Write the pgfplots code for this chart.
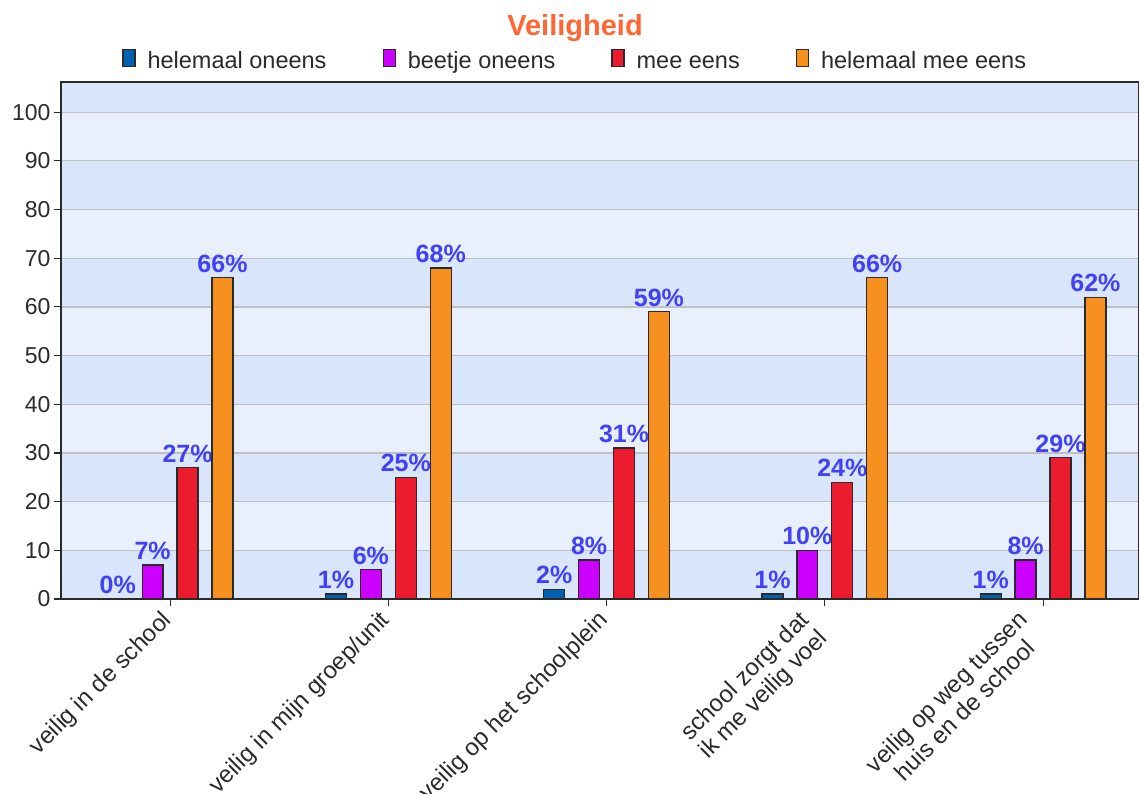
\documentclass[border=0pt]{standalone}
\usepackage{fontspec}
\setmainfont{Liberation Sans}
\usepackage{pgfplots}
\pgfplotsset{compat=1.18}
\definecolor{cBlue}{HTML}{0062AE}
\definecolor{cPurple}{HTML}{CC00FF}
\definecolor{cRed}{HTML}{EC1C2E}
\definecolor{cOrange}{HTML}{F7901E}
\definecolor{bandLight}{HTML}{E8F0FD}
\definecolor{bandDark}{HTML}{D8E5FB}
\definecolor{lblBlue}{HTML}{4040F8}
\definecolor{titleOrange}{HTML}{FF6633}
\definecolor{gridGray}{HTML}{C0C0C0}
\definecolor{txt}{HTML}{2A2A2A}
\begin{document}
\begin{tikzpicture}
\begin{axis}[
  name=ax,
  set layers,
  clip mode=individual,
  scale only axis,
  width=1078pt, height=517pt,
  xmin=-0.5, xmax=4.44,
  ymin=0, ymax=106.2,
  ytick={0,10,...,100},
  xtick={0,1,2},
  xticklabels={veilig in de school, veilig in mijn groep/unit, veilig op het schoolplein},
  extra x ticks={3,4},
  extra x tick labels={{school zorgt dat\\ik me veilig voel}, {veilig op weg tussen\\huis en de school}},
  extra x tick style={xticklabel style={xshift=-12pt, yshift=12pt}},
  /pgf/number format/assume math mode=true,
  ymajorgrids,
  grid style={gridGray, line width=1.2pt},
  axis line style={draw=txt, line width=1.3pt},
  tick style={draw=txt, line width=1.1pt},
  major tick length=7pt,
  tick align=outside,
  xtick pos=bottom, ytick pos=left,
  yticklabel style={font=\fontsize{23}{26}\selectfont, text=txt},
  xticklabel style={rotate=45, anchor=north east, align=center, font=\fontsize{24}{26}\selectfont, text=txt, inner sep=2pt, xshift=-7pt, yshift=7pt},
  ybar, bar width=0.096,
  every axis plot/.append style={draw=txt, line width=1.3pt},
  nodes near coords={\pgfmathprintnumber{\pgfplotspointmeta}\%},
  nodes near coords style={font=\fontsize{25}{28}\selectfont\bfseries, text=lblBlue, anchor=south, inner sep=1.5pt, yshift=3pt},
  legend columns=4,
  legend style={at={(0.477,1.041)}, anchor=center, draw=none, fill=none,
    font=\fontsize{23.5}{26}\selectfont, text=txt,
    nodes={text depth=0.25em, text height=0.75em},
    /tikz/every odd column/.append style={column sep=10pt},
    /tikz/every even column/.append style={column sep=54pt}},
  legend image code/.code={\draw[#1,/tikz/.cd,draw=txt,line width=1.2pt] (0pt,-1pt) rectangle (12pt,16pt);},
]
\begin{pgfonlayer}{axis background}
\fill[bandLight] (axis cs:-0.5,0) rectangle (axis cs:4.44,106.2);
\fill[bandDark] (axis cs:-0.5,0) rectangle (axis cs:4.44,10);
\fill[bandDark] (axis cs:-0.5,20) rectangle (axis cs:4.44,30);
\fill[bandDark] (axis cs:-0.5,40) rectangle (axis cs:4.44,50);
\fill[bandDark] (axis cs:-0.5,60) rectangle (axis cs:4.44,70);
\fill[bandDark] (axis cs:-0.5,80) rectangle (axis cs:4.44,90);
\fill[bandDark] (axis cs:-0.5,100) rectangle (axis cs:4.44,106.2);
\end{pgfonlayer}
\addplot[fill=cBlue, bar shift=-0.24] coordinates {(0,0) (1,1) (2,2) (3,1) (4,1)};
\addplot[fill=cPurple, bar shift=-0.08] coordinates {(0,7) (1,6) (2,8) (3,10) (4,8)};
\addplot[fill=cRed, bar shift=0.08] coordinates {(0,27) (1,25) (2,31) (3,24) (4,29)};
\addplot[fill=cOrange, bar shift=0.24] coordinates {(0,66) (1,68) (2,59) (3,66) (4,62)};
\legend{helemaal oneens, beetje oneens, mee eens, helemaal mee eens}
\end{axis}
\node[font=\fontsize{29}{32}\selectfont\bfseries, text=titleOrange] at ([xshift=514pt,yshift=54pt]ax.north west) {Veiligheid};
\pgfresetboundingbox
\path[use as bounding box] ([xshift=-61pt,yshift=-194pt]ax.south west) rectangle ++(1139pt,793pt);
\end{tikzpicture}
\end{document}
